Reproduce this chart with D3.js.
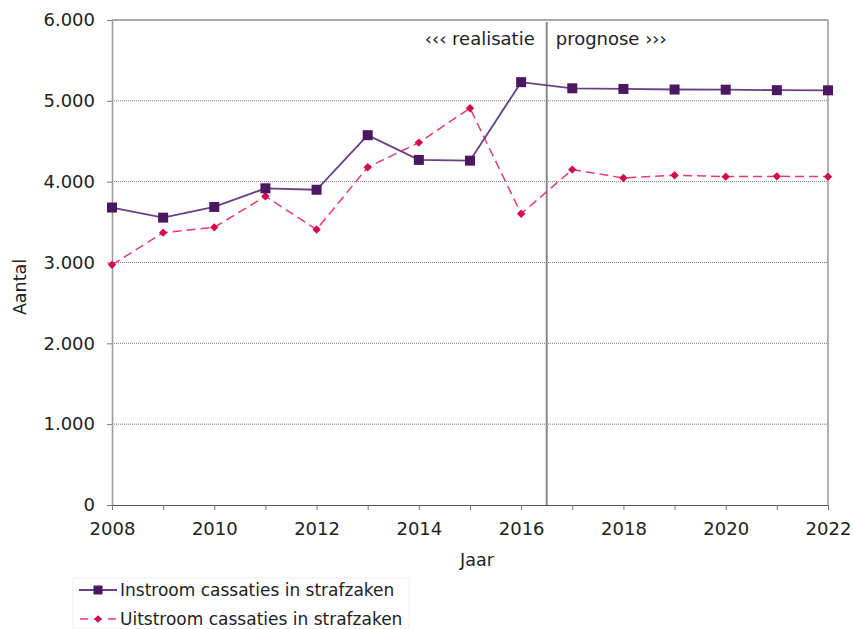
<!DOCTYPE html>
<html><head><meta charset="utf-8">
<script src="https://cdn.jsdelivr.net/npm/d3@7"></script>
<style>
html,body{margin:0;padding:0;background:#fff;}
svg{display:block;font-family:"DejaVu Sans",Verdana,sans-serif;}
</style></head>
<body><svg id="c" width="853" height="629"></svg>
<script>
const years = [2008,2009,2010,2011,2012,2013,2014,2015,2016,2017,2018,2019,2020,2021,2022];
const instroom = [3680,3555,3687,3918,3900,4575,4269,4260,5231,5155,5147,5140,5138,5132,5130];
const uitstroom = [2971,3369,3435,3819,3409,4178,4483,4909,3603,4149,4045,4080,4062,4066,4062];
const yTicks = [0,1000,2000,3000,4000,5000,6000];
const xTickLabels = [2008,2010,2012,2014,2016,2018,2020,2022];
const splitYear = 2016.5;
const seriesNames = ["Instroom cassaties in strafzaken","Uitstroom cassaties in strafzaken"];

const W=853,H=629, m={l:112,t:20,r:25,b:124};
const svg=d3.select("#c");
const x=d3.scaleLinear().domain([2008,2022]).range([m.l,W-m.r]);
const y=d3.scaleLinear().domain([0,6000]).range([H-m.b,m.t]);
const fmt=d=>d3.format(",")(d).replace(/,/g,".");

// gridlines
svg.append("g").selectAll("line").data(yTicks.filter(d=>d>0)).join("line")
  .attr("x1",m.l).attr("x2",W-m.r).attr("y1",d=>y(d)).attr("y2",d=>y(d))
  .attr("stroke","#777").attr("stroke-width",1).attr("stroke-dasharray","1,1");
// frame top/right
svg.append("line").attr("x1",m.l).attr("x2",W-m.r).attr("y1",y(6000)).attr("y2",y(6000)).attr("stroke","#999").attr("stroke-width",1.5);
svg.append("line").attr("x1",W-m.r).attr("x2",W-m.r).attr("y1",y(6000)).attr("y2",y(0)).attr("stroke","#999").attr("stroke-width",1.5);

// y axis
const ya=svg.append("g").attr("transform",`translate(${m.l},0)`)
  .call(d3.axisLeft(y).tickValues(yTicks).tickFormat(fmt).tickSize(5).tickSizeOuter(0).tickPadding(12));
ya.select(".domain").attr("stroke","#999").attr("stroke-width",1.5);
ya.selectAll(".tick line").attr("stroke","#777");
ya.selectAll("text").attr("font-size","18px").attr("fill","#222").attr("font-family","DejaVu Sans");

// x axis
const xa=svg.append("g").attr("transform",`translate(0,${y(0)})`)
  .call(d3.axisBottom(x).tickValues(years).tickFormat(d=>xTickLabels.includes(d)?d:"").tickSize(5).tickSizeOuter(0).tickPadding(12));
xa.select(".domain").attr("stroke","#555").attr("stroke-width",1.2);
xa.selectAll(".tick line").attr("stroke","#777");
xa.selectAll("text").attr("font-size","18px").attr("fill","#222").attr("font-family","DejaVu Sans");

// split line
svg.append("line").attr("x1",x(splitYear)).attr("x2",x(splitYear)).attr("y1",y(6000)+2).attr("y2",y(0))
  .attr("stroke","#888").attr("stroke-width",2);
svg.append("text").attr("x",x(splitYear)-12).attr("y",45).attr("text-anchor","end")
  .attr("font-size","18px").attr("fill","#222").text("‹‹‹ realisatie");
svg.append("text").attr("x",x(splitYear)+9).attr("y",45).attr("text-anchor","start")
  .attr("font-size","18px").attr("fill","#222").text("prognose ›››");

// axis titles
svg.append("text").attr("x",477).attr("y",566).attr("text-anchor","middle").attr("font-size","17.5px").attr("fill","#222").text("Jaar");
svg.append("text").attr("transform","translate(26,287) rotate(-90)").attr("text-anchor","middle").attr("font-size","17.5px").attr("fill","#222").text("Aantal");

const line=d3.line().x((d,i)=>x(years[i])).y(d=>y(d));
const cP="#4a1760", cPl="#6b3f84", cR="#d40a4f", cRl="#e33c6c";
// uitstroom
svg.append("path").attr("d",line(uitstroom)).attr("fill","none").attr("stroke",cRl).attr("stroke-width",1.5).attr("stroke-dasharray","9,5");
svg.append("g").selectAll("path").data(uitstroom).join("path")
  .attr("d",d3.symbol(d3.symbolDiamond2,45)()).attr("transform",(d,i)=>`translate(${x(years[i])},${y(d)})`).attr("fill",cR);
// instroom
svg.append("path").attr("d",line(instroom)).attr("fill","none").attr("stroke",cPl).attr("stroke-width",1.8);
svg.append("g").selectAll("rect").data(instroom).join("rect")
  .attr("x",(d,i)=>x(years[i])-5).attr("y",d=>y(d)-5).attr("width",10).attr("height",10).attr("fill",cP);

// legend
const lg=svg.append("g");
lg.append("rect").attr("x",73).attr("y",578).attr("width",336).attr("height",51).attr("fill","none").attr("stroke","#f0f0f0");
const ly=[590,619];
lg.append("line").attr("x1",79).attr("x2",117).attr("y1",ly[0]).attr("y2",ly[0]).attr("stroke",cPl).attr("stroke-width",1.8);
lg.append("rect").attr("x",98-4.5).attr("y",ly[0]-4.5).attr("width",9).attr("height",9).attr("fill",cP);
lg.append("line").attr("x1",79).attr("x2",117).attr("y1",ly[1]).attr("y2",ly[1]).attr("stroke",cRl).attr("stroke-width",1.5).attr("stroke-dasharray","8,6").attr("stroke-dashoffset",-1);
lg.append("path").attr("d",d3.symbol(d3.symbolDiamond2,38)()).attr("transform",`translate(98,${ly[1]})`).attr("fill",cR);
lg.selectAll("text.l").data(seriesNames).join("text").attr("class","l")
  .attr("x",120).attr("y",(d,i)=>ly[i]+6).attr("font-size","17px").attr("fill","#222").text(d=>d);
</script></body></html>
